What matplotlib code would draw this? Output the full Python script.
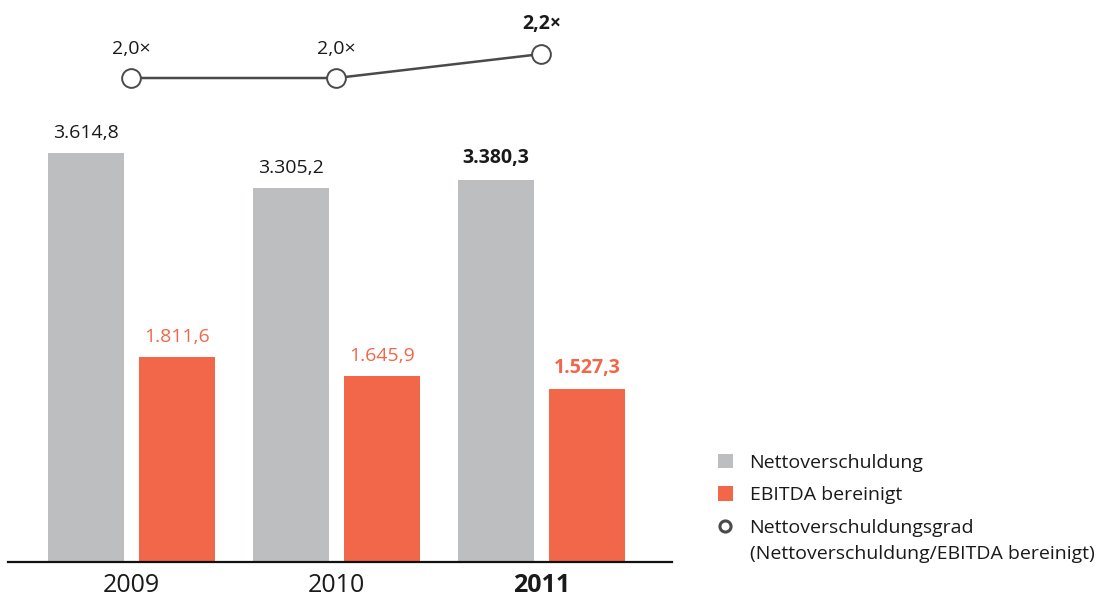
import matplotlib.pyplot as plt
from matplotlib.lines import Line2D
from matplotlib.patches import Patch
import numpy as np

plt.rcParams['font.family'] = ['Open Sans', 'DejaVu Sans']

years = ['2009', '2010', '2011']
netto = [3614.8, 3305.2, 3380.3]
ebitda = [1811.6, 1645.9, 1527.3]
grad = [2.0, 2.0, 2.2]
netto_labels = ['3.614,8', '3.305,2', '3.380,3']
ebitda_labels = ['1.811,6', '1.645,9', '1.527,3']
grad_labels = ['2,0\u00d7', '2,0\u00d7', '2,2\u00d7']

grey = '#bdbec0'
orange = '#f2674a'

fig = plt.figure(figsize=(11.09, 5.97), dpi=100)
W, H = 1109, 597
# axes from x=8..672 px, y=0..562 px (from top)
ax = fig.add_axes([8 / W, (H - 562) / H, (672 - 8) / W, 562 / H])

x = np.arange(len(years))
bw = 0.371
off = 0.222
ax.bar(x - off, netto, bw, color=grey, zorder=2)
ax.bar(x + off, ebitda, bw, color=orange, zorder=2)

for i in range(len(years)):
    bold = 'bold' if i == 2 else 'normal'
    ax.text(x[i] - off, netto[i] + 100, netto_labels[i], ha='center', va='bottom',
            fontsize=14, color='#1a1a1a', fontweight=bold)
    ax.text(x[i] + off, ebitda[i] + 100, ebitda_labels[i], ha='center', va='bottom',
            fontsize=14, color=orange, fontweight=bold)

ax.set_xlim(-0.602, 2.637)
ax.set_ylim(0, 4969)
ax.set_xticks(x)
ax.set_xticklabels(years, fontsize=18, color='#1a1a1a')
ax.get_xticklabels()[2].set_fontweight('bold')
ax.tick_params(axis='x', length=0, pad=8)
ax.set_yticks([])
for s in ['top', 'right', 'left']:
    ax.spines[s].set_visible(False)
ax.spines['bottom'].set_linewidth(1.6)
ax.spines['bottom'].set_color('#111111')

ax2 = ax.twinx()
ax2.set_ylim(-2.033, 2.65)
ax2.plot(x, grad, color='#4a4a4a', lw=1.8, marker='o', ms=13.5,
         mfc='white', mec='#4a4a4a', mew=1.4, zorder=3)
for i in range(len(years)):
    bold = 'bold' if i == 2 else 'normal'
    ax2.text(x[i], grad[i] + 0.17, grad_labels[i], ha='center', va='bottom',
             fontsize=14, color='#1a1a1a', fontweight=bold)
ax2.axis('off')

handles = [
    Patch(facecolor=grey, edgecolor='none'),
    Patch(facecolor=orange, edgecolor='none'),
    Line2D([], [], ls='none', marker='o', ms=8, mfc='white', mec='#4a4a4a', mew=2.2),
]
labels = ['Nettoverschuldung', 'EBITDA bereinigt', 'Nettoverschuldungsgrad']
leg = fig.legend(handles, labels, loc='upper left', bbox_to_anchor=(700 / W, 1 - 436 / H),
                 frameon=False, fontsize=14, handlelength=0.8, handleheight=0.8,
                 handletextpad=0.85, labelspacing=0.74, labelcolor='#1a1a1a')
fig.text(750 / W, 1 - 554 / H, '(Nettoverschuldung/EBITDA bereinigt)', fontsize=14,
         color='#1a1a1a', ha='left', va='center')

fig.savefig('out.png', dpi=100)
